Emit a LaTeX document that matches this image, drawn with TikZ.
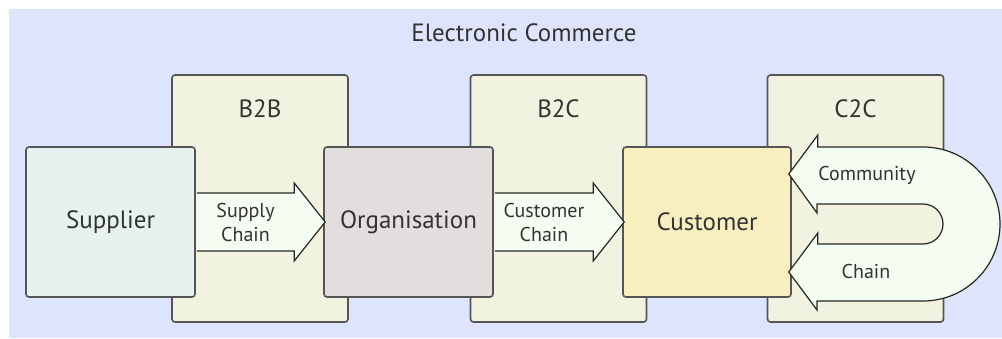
\documentclass[tikz,border=0pt]{standalone}
\usepackage{fontspec}
\setmainfont{PT Sans}
\usetikzlibrary{calc,positioning}

\definecolor{bgblue}{RGB}{221,228,252}
\definecolor{groupfill}{RGB}{241,243,224}
\definecolor{supfill}{RGB}{230,242,240}
\definecolor{orgfill}{RGB}{227,222,222}
\definecolor{custfill}{RGB}{248,239,192}
\definecolor{arrowfill}{RGB}{245,253,243}
\definecolor{edgegray}{RGB}{85,85,85}
\definecolor{textgray}{RGB}{51,51,51}

\tikzset{
  group/.style={draw=edgegray, line width=1.6pt, fill=groupfill, rounded corners=3pt,
    minimum width=176pt, minimum height=247pt, inner sep=0pt},
  grouptitle/.style={font=\fontsize{25}{30}\selectfont, text=textgray},
  party/.style={draw=edgegray, line width=1.6pt, rounded corners=3pt,
    minimum width=169pt, minimum height=150pt, inner sep=0pt,
    font=\fontsize{25}{30}\selectfont, text=textgray},
  chainlabel/.style={font=\fontsize{20}{24}\selectfont, text=textgray, align=center},
  blockarrow/.style={draw=black!85, line width=1.2pt, fill=arrowfill, line join=miter},
}

% block arrow from the east side of #1 to the west side of #2
\newcommand\chainarrow[2]{%
  \filldraw[blockarrow] ($(#1.east)+(1,-29)$) -- ($(#2.west)+(-29,-29)$)
    -- ($(#2.west)+(-29,-39)$) -- ($(#2.west)+(2,0)$) -- ($(#2.west)+(-29,39)$)
    -- ($(#2.west)+(-29,29)$) -- ($(#1.east)+(1,29)$);}

\begin{document}
\begin{tikzpicture}[x=1pt,y=-1pt]
  \useasboundingbox (0,0) rectangle (1002,339);
  \fill[bgblue] (9,9) rectangle (1002,338);

  \node[grouptitle] (title) at (524,33) {Electronic Commerce};

  % market groups
  \node[group] (b2b) at (260,198.5) {};
  \node[group] (b2c) at (558.5,198.5) {};
  \node[group] (c2c) at (855.5,198.5) {};
  \node[grouptitle] (b2bt) at ($(b2b.north)+(0,35)$) {B2B};
  \node[grouptitle] (b2ct) at ($(b2c.north)+(0,35)$) {B2C};
  \node[grouptitle] (c2ct) at ($(c2c.north)+(0,35)$) {C2C};

  % parties
  \node[party, fill=supfill] (sup) at (110.5,222) {Supplier};
  \node[party, fill=orgfill] (org) at (408.5,222) {Organisation};
  \node[party, fill=custfill, minimum width=168pt] (cust) at (707,222) {Customer};

  % chains
  \chainarrow{sup}{org}
  \chainarrow{org}{cust}
  \node[chainlabel] (supch) at ($($(sup.east)!0.5!(org.west)$)+(-14,1)$) {Supply\\Chain};
  \node[chainlabel] (custch) at ($($(org.east)!0.5!(cust.west)$)+(-14,1)$) {Customer\\Chain};

  \coordinate (uptip) at ($(cust.east)+(-3,-48)$);
  \coordinate (lowtip) at ($(cust.east)+(-3,50)$);
  \filldraw[blockarrow] (uptip) -- ++(29,-39) -- ++(0,12) -- (923,147)
    arc[start angle=-90, end angle=90, radius=77] -- (817,301) -- ++(0,9)
    -- (lowtip) -- ++(29,-39) -- ++(0,11) -- (923,244)
    arc[start angle=90, end angle=-90, radius=20] -- (817,204) -- ++(0,9) -- cycle;
  \node[chainlabel] (commt) at (867,175) {Community};
  \node[chainlabel] (chaint) at (866,272) {Chain};
\end{tikzpicture}
\end{document}
